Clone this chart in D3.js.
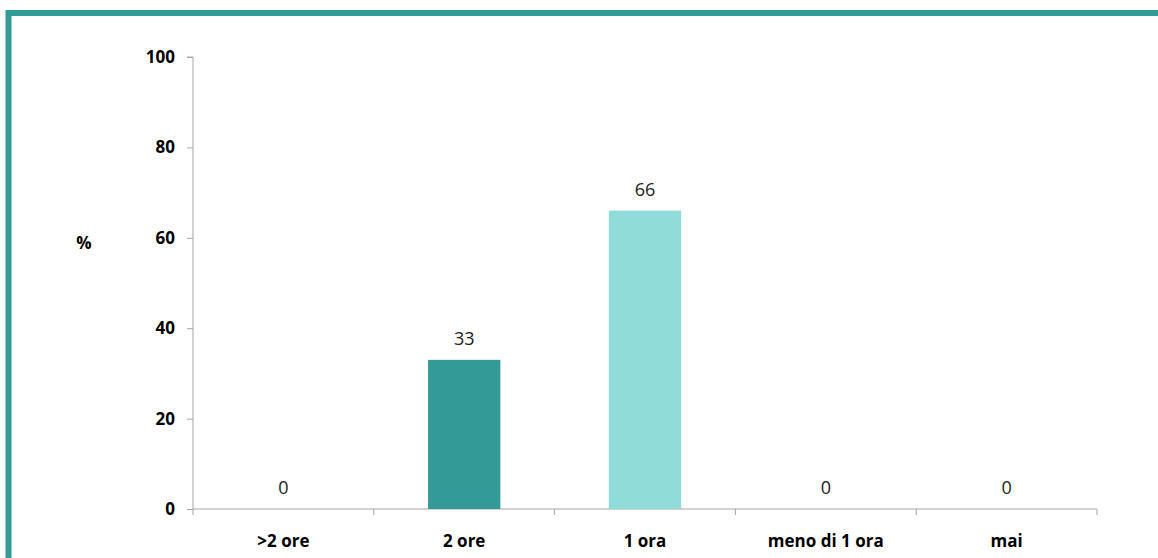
<!DOCTYPE html>
<html>
<head>
<meta charset="utf-8">
<script src="https://cdn.jsdelivr.net/npm/d3@7"></script>
<style>
  body { margin: 0; background: #fff; }
  svg { display: block; }
</style>
</head>
<body>
<svg id="chart"></svg>
<script>
// chart values
const categories = [">2 ore", "2 ore", "1 ora", "meno di 1 ora", "mai"];
const values = [0, 33, 66, 0, 0];
const barColors = ["#339a98", "#339a98", "#90dcd9", "#339a98", "#339a98"];
const yTicks = [0, 20, 40, 60, 80, 100];

const width = 1158, height = 558;
const margin = {top: 57, right: 61, bottom: 49, left: 193};
const font = 'Open Sans, sans-serif';

const svg = d3.select('#chart')
  .attr('width', width)
  .attr('height', height);

// teal frame, top and left edges
svg.append('rect')
  .attr('x', 8.5).attr('y', 13)
  .attr('width', width + 20).attr('height', height + 20)
  .attr('fill', 'none')
  .attr('stroke', '#339b97')
  .attr('stroke-width', 6);

const x = d3.scaleBand()
  .domain(categories)
  .range([margin.left, width - margin.right])
  .paddingInner(0.6)
  .paddingOuter(0.3);

const y = d3.scaleLinear()
  .domain([0, 100])
  .range([height - margin.bottom, margin.top]);

const g = svg.append('g');

// y axis
const yAxis = g.append('g')
  .attr('transform', `translate(${margin.left},0)`)
  .call(d3.axisLeft(y).tickValues(yTicks).tickSize(6).tickPadding(12));
yAxis.select('.domain').attr('stroke', '#a6a6a6').attr('d', `M-6,${y(100)}H0V${y(0)}`);
yAxis.selectAll('.tick line').attr('stroke', '#a6a6a6');
yAxis.selectAll('.tick text')
  .attr('font-family', font)
  .attr('font-weight', 'bold')
  .attr('font-size', 17)
  .attr('fill', '#000');

// x axis: ticks sit at band boundaries
const step = x.step();
const bounds = categories.map(c => x(c) - (step - x.bandwidth()) / 2);
bounds.push(width - margin.right);
const xAxis = g.append('g');
xAxis.append('line')
  .attr('x1', margin.left).attr('x2', width - margin.right)
  .attr('y1', y(0)).attr('y2', y(0))
  .attr('stroke', '#a6a6a6');
xAxis.selectAll('.xt')
  .data(bounds)
  .join('line')
  .attr('class', 'xt')
  .attr('x1', d => d).attr('x2', d => d)
  .attr('y1', y(0)).attr('y2', y(0) + 6)
  .attr('stroke', '#a6a6a6');
xAxis.selectAll('.xl')
  .data(categories)
  .join('text')
  .attr('class', 'xl')
  .attr('x', d => x(d) + x.bandwidth() / 2)
  .attr('y', y(0) + 38)
  .attr('text-anchor', 'middle')
  .attr('font-family', font)
  .attr('font-weight', 'bold')
  .attr('font-size', 17)
  .text(d => d);

// bars
g.selectAll('.bar')
  .data(values)
  .join('rect')
  .attr('class', 'bar')
  .attr('x', (d, i) => x(categories[i]))
  .attr('y', d => y(d))
  .attr('width', x.bandwidth())
  .attr('height', d => y(0) - y(d))
  .attr('fill', (d, i) => barColors[i]);

// value labels
g.selectAll('.val')
  .data(values)
  .join('text')
  .attr('class', 'val')
  .attr('x', (d, i) => x(categories[i]) + x.bandwidth() / 2)
  .attr('y', d => y(d) - 15)
  .attr('text-anchor', 'middle')
  .attr('font-family', font)
  .attr('font-size', 18)
  .attr('fill', '#222')
  .text(d => d);

// y title
svg.append('text')
  .attr('x', 84).attr('y', 249)
  .attr('text-anchor', 'middle')
  .attr('font-family', font)
  .attr('font-weight', 'bold')
  .attr('font-size', 17)
  .text('%');
</script>
</body>
</html>
